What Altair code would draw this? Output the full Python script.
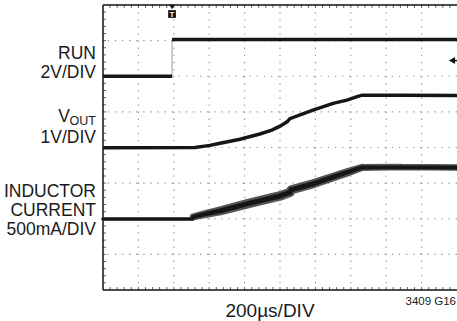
import altair as alt
import numpy as np
import pandas as pd

# Time axis in divisions (200us/DIV), vertical axis in divisions (8 rows)
# RUN trace
run_t = [0.0, 1.95, 1.95, 10.0]
run_v = [6.0, 6.0, 7.03, 7.03]
run_seg = ["low", "low", "high", "high"]

# VOUT trace
vout_t = [0.0, 2.60, 3.02, 3.31, 3.87, 4.43, 4.77, 5.00, 5.20, 5.28, 5.93, 6.50, 6.89, 7.18, 7.32, 8.40, 10.0]
vout_v = [3.99, 4.00, 4.06, 4.12, 4.23, 4.38, 4.49, 4.60, 4.72, 4.81, 5.05, 5.24, 5.33, 5.43, 5.47, 5.47, 5.46]

# Inductor current trace with its noise envelope width (px)
il_t = [0.0, 2.54, 2.55, 2.88, 3.31, 4.15, 5.00, 5.28, 5.31, 5.93, 6.89, 7.32, 8.40, 10.0]
il_v = [1.99, 1.99, 2.05, 2.13, 2.22, 2.44, 2.64, 2.74, 2.81, 2.98, 3.30, 3.44, 3.45, 3.44]
il_band = [3.5, 3.5, 7.0, 8.0, 9.0, 9.5, 9.5, 9.5, 9.0, 9.0, 8.5, 7.0, 6.5, 6.5]
il_core = [3.0, 3.0, 4.0, 4.5, 5.0, 5.0, 5.0, 5.0, 5.0, 5.0, 4.5, 4.0, 4.0, 4.0]

trigger_t = [1.95]
ground_marker = [6.44]

W, H = 354, 285
FONT = "Liberation Sans"
TRACE = "#161616"

xs = alt.Scale(domain=[0, 10], nice=False, zero=False)
ys = alt.Scale(domain=[0, 8], nice=False, zero=False)

run_df = pd.DataFrame({"t": run_t, "v": run_v, "seg": run_seg})
vout_df = pd.DataFrame({"t": vout_t, "v": vout_v})
il_df = pd.DataFrame({"t": il_t, "v": il_v, "band": il_band, "core": il_core})

# Graticule
major_x = pd.DataFrame({"t": np.arange(1, 10)})
major_y = pd.DataFrame({"v": np.arange(1, 8)})
minor_x = pd.DataFrame({"t": np.round(np.arange(0.2, 10, 0.2), 2)})
minor_y = pd.DataFrame({"v": np.round(np.arange(0.2, 8, 0.2), 2)})

dots = dict(color="#9a9a9a", strokeWidth=1.2, strokeDash=[1.4, 5.7])
grid_v = alt.Chart(major_x).mark_rule(**dots).encode(x=alt.X("t:Q", scale=xs, axis=None))
grid_h = alt.Chart(major_y).mark_rule(**dots).encode(y=alt.Y("v:Q", scale=ys, axis=None))

tick_style = dict(color="#666", strokeWidth=1)
ticks_top = alt.Chart(minor_x).mark_rule(**tick_style).encode(
    x=alt.X("t:Q", scale=xs, axis=None), y=alt.value(0), y2=alt.value(3))
ticks_bottom = alt.Chart(minor_x).mark_rule(**tick_style).encode(
    x=alt.X("t:Q", scale=xs, axis=None), y=alt.value(H - 3), y2=alt.value(H))
ticks_left = alt.Chart(minor_y).mark_rule(**tick_style).encode(
    y=alt.Y("v:Q", scale=ys, axis=None), x=alt.value(0), x2=alt.value(3))

border = dict(color="#111", strokeWidth=1.5)
frame_h = alt.Chart(pd.DataFrame({"v": [0, 8]})).mark_rule(**border).encode(
    y=alt.Y("v:Q", scale=ys, axis=None))
frame_l = alt.Chart(pd.DataFrame({"t": [0]})).mark_rule(**border).encode(
    x=alt.X("t:Q", scale=xs, axis=None))

# Traces
run_line = alt.Chart(run_df).mark_line(color=TRACE, strokeWidth=3.5).encode(
    x=alt.X("t:Q", scale=xs, axis=None), y=alt.Y("v:Q", scale=ys, axis=None), detail="seg:N")
run_edge = alt.Chart(pd.DataFrame({"t": [run_t[1]], "lo": [run_v[1]], "hi": [run_v[2]]})).mark_rule(
    color="#9a9a9a", strokeWidth=1).encode(
    x=alt.X("t:Q", scale=xs, axis=None), y=alt.Y("lo:Q", scale=ys, axis=None), y2="hi:Q")

vout_line = alt.Chart(vout_df).mark_line(color=TRACE, strokeWidth=3.5).encode(
    x=alt.X("t:Q", scale=xs, axis=None), y=alt.Y("v:Q", scale=ys, axis=None))

il_band_mark = alt.Chart(il_df).mark_trail(color="#555555").encode(
    x=alt.X("t:Q", scale=xs, axis=None), y=alt.Y("v:Q", scale=ys, axis=None),
    size=alt.Size("band:Q", scale=None), order="t:Q")
il_core_mark = alt.Chart(il_df).mark_trail(color=TRACE).encode(
    x=alt.X("t:Q", scale=xs, axis=None), y=alt.Y("v:Q", scale=ys, axis=None),
    size=alt.Size("core:Q", scale=None), order="t:Q")

# Trigger marker at the top
trig_df = pd.DataFrame({"t": trigger_t})
trig_arrow = alt.Chart(trig_df).mark_point(shape="triangle-down", filled=True, color="#111", size=30, opacity=1).encode(
    x=alt.X("t:Q", scale=xs, axis=None), y=alt.value(2))
trig_box = alt.Chart(trig_df).mark_point(shape="square", filled=True, color="#111", size=60, opacity=1).encode(
    x=alt.X("t:Q", scale=xs, axis=None), y=alt.value(9))
trig_text = alt.Chart(trig_df).mark_text(text="T", color="white", font=FONT, fontSize=8, fontWeight="bold",
                                         baseline="middle").encode(
    x=alt.X("t:Q", scale=xs, axis=None), y=alt.value(9.5))

# Reference arrow at the right edge
gnd_df = pd.DataFrame({"v": ground_marker})
gnd_head = alt.Chart(gnd_df).mark_point(shape="triangle-left", filled=True, color="#111", size=50, opacity=1).encode(
    y=alt.Y("v:Q", scale=ys, axis=None), x=alt.value(W - 5))
gnd_stem = alt.Chart(gnd_df).mark_rule(color="#111", strokeWidth=1.5).encode(
    y=alt.Y("v:Q", scale=ys, axis=None), x=alt.value(W - 4), x2=alt.value(W))

# Channel labels
lab = dict(font=FONT, fontSize=17.5, align="right", color="#1a1a1a")
label_rows = [("RUN", 49), ("2V/DIV", 68), ("1V/DIV", 133),
              ("INDUCTOR", 187), ("CURRENT", 206), ("500mA/DIV", 225)]
labels = [alt.Chart(pd.DataFrame({"s": [s]})).mark_text(**lab).encode(
    text="s:N", x=alt.value(-7), y=alt.value(yy)) for s, yy in label_rows]
v_main = alt.Chart(pd.DataFrame({"s": ["V"]})).mark_text(**lab).encode(
    text="s:N", x=alt.value(-33), y=alt.value(112))
v_sub = alt.Chart(pd.DataFrame({"s": ["OUT"]})).mark_text(font=FONT, fontSize=12.5, align="right",
                                                          color="#1a1a1a").encode(
    text="s:N", x=alt.value(-7), y=alt.value(116))

time_label = alt.Chart(pd.DataFrame({"s": ["200µs/DIV"]})).mark_text(
    font=FONT, fontSize=19, align="center", color="#1a1a1a").encode(
    text="s:N", x=alt.value(167), y=alt.value(306))
fig_id = alt.Chart(pd.DataFrame({"s": ["3409 G16"]})).mark_text(
    font=FONT, fontSize=11.5, align="right", color="#1a1a1a").encode(
    text="s:N", x=alt.value(W - 1), y=alt.value(297))

chart = alt.layer(
    grid_v, grid_h, ticks_top, ticks_bottom, ticks_left, frame_h, frame_l,
    run_edge, run_line, vout_line, il_band_mark, il_core_mark,
    trig_arrow, trig_box, trig_text, gnd_head, gnd_stem,
    *labels, v_main, v_sub, time_label, fig_id,
).properties(
    width=W, height=H,
    padding={"left": 103, "top": 5, "right": 0, "bottom": 31},
    autosize=alt.AutoSizeParams(type="none"),
    background="white",
).configure_view(stroke=None)

chart.save("out.html", embed_options={"renderer": "svg", "actions": False})
